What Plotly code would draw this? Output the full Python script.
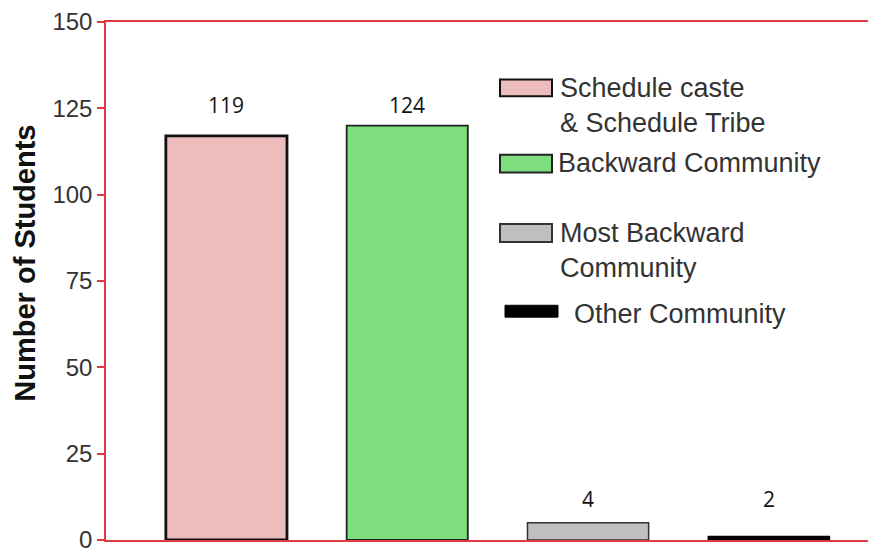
import plotly.graph_objects as go

# ---- data ----
categories = ["Schedule caste<br>& Schedule Tribe", "Backward Community",
              "Most Backward<br>Community", "Other Community"]
bar_heights = [117, 120, 5, 1]          # heights as drawn in the picture
value_labels = ["119", "124", "4", "2"]  # printed values
y_ticks = [0, 25, 50, 75, 100, 125, 150]

# ---- styles ----
fills = ["#EDBDBD", "#7EDE7E", "#BFBFBF", "#000000"]
outlines = ["#111111", "#222222", "#333333", "#000000"]
outline_w = [2.8, 1.8, 1.5, 1.5]
RED = "#E03A40"

OFF = 7  # page body margin of the browser
W, H = 876 - OFF, 552 - OFF
L, R, T, B = 105 - OFF, 876 - OFF, 19 - OFF, 542 - OFF

def px(x):
    return (x - OFF - L) / (R - L)

def py(y):
    return (B - (y - OFF)) / (B - T)

fig = go.Figure()
for i, cat in enumerate(categories):
    fig.add_trace(go.Bar(
        x=[i], y=[bar_heights[i]], width=0.67,
        marker=dict(color=fills[i], line=dict(color=outlines[i], width=outline_w[i])),
        showlegend=False, hoverinfo="skip",
    ))

# value labels
label_y = [126, 126, 12, 12]
for i, lab in enumerate(value_labels):
    fig.add_annotation(x=i, y=label_y[i], text=lab, showarrow=False,
                       font=dict(family="Open Sans, Liberation Sans, sans-serif", size=21, color="#111"),
                       xref="x", yref="y")

# manual legend (swatch boxes in pixel coordinates of the picture)
legend_items = [
    (499, 77, 551, 94, 557, 103.5, "Schedule caste<br>& Schedule Tribe"),
    (499, 153, 551, 171, 555, 161, "Backward Community"),
    (499, 223, 551, 241, 557, 249.5, "Most Backward<br>Community"),
    (504, 305, 557, 317, 571, 314, "Other Community"),
]
for i, (x0, y0, x1, y1, tx, ty, txt) in enumerate(legend_items):
    fig.add_shape(type="rect", xref="paper", yref="paper",
                  x0=px(x0), x1=px(x1), y0=py(y1), y1=py(y0),
                  fillcolor=fills[i], line=dict(color=outlines[i], width=2 if i < 3 else 1))
    fig.add_annotation(xref="paper", yref="paper", x=px(tx), y=py(ty),
                       text=txt, showarrow=False, xanchor="left", yanchor="middle",
                       align="left",
                       font=dict(family="Liberation Sans, Arial, sans-serif", size=27, color="#333"))

# y axis title
fig.add_annotation(xref="paper", yref="paper", x=px(24), y=py(263), text="<b>Number of Students</b>",
                   textangle=-90, showarrow=False, xanchor="center", yanchor="middle",
                   font=dict(family="Liberation Sans, Arial, sans-serif", size=29, color="#111"))

fig.update_layout(
    width=W, height=H,
    margin=dict(l=L, r=W - R, t=T, b=H - B),
    paper_bgcolor="white", plot_bgcolor="white",
    xaxis=dict(range=[-0.666, 3.598], showticklabels=False, ticks="",
               showgrid=False, zeroline=False,
               showline=True, linecolor=RED, linewidth=1.5, mirror=True),
    yaxis=dict(range=[0, 150], tickvals=y_ticks, ticks="outside", ticklen=7,
               tickcolor=RED, tickwidth=1.5, showgrid=False, zeroline=False,
               showline=True, linecolor=RED, linewidth=1.5,
               ticklabeloverflow="allow",
               tickfont=dict(family="Liberation Sans, Arial, sans-serif", size=24, color="#333")),
)

fig.write_html("out.html")
